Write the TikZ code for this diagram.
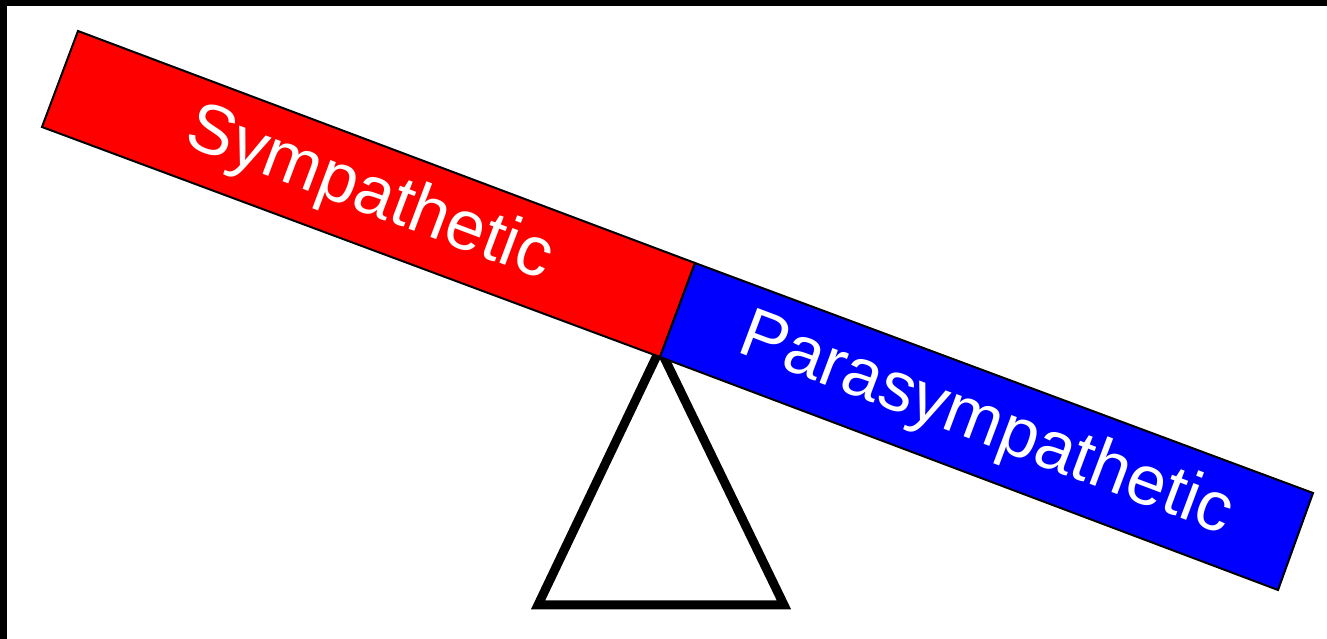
\documentclass[tikz,border=0pt]{standalone}
\usepackage{fontspec}
\setmainfont{Liberation Sans}
\begin{document}
\begin{tikzpicture}[x=1pt,y=1pt,
  beam/.style={draw=black,line width=2pt,line join=miter},
  label/.style={text=white,font=\fontsize{70}{84}\selectfont,rotate=-20.6,inner sep=0pt}]
\useasboundingbox (0,0) rectangle (1327,639);
\fill[white] (0,0) rectangle (1327,639);
% black frame strips (top and left)
\fill[black] (0,633) rectangle (1327,639);
\fill[black] (0,0) rectangle (7,639);
% fulcrum
\draw[line width=9pt,line join=miter] (538,34) -- (784,34) -- (660,290) -- cycle;
% beam halves
\coordinate (A) at (78,608);
\coordinate (B) at (42,512);
\coordinate (C) at (660,282);
\coordinate (D) at (695,376);
\coordinate (E) at (1278,49);
\coordinate (F) at (1313,146);
\filldraw[beam,fill={rgb,255:red,255;green,0;blue,0}] (A) -- (B) -- (C) -- (D) -- cycle;
\filldraw[beam,fill={rgb,255:red,0;green,0;blue,255}] (D) -- (C) -- (E) -- (F) -- cycle;
\node[label] (symp) at (369,444) {Sympathetic};
\node[label] (para) at (986,213) {Parasympathetic};
\end{tikzpicture}
\end{document}
